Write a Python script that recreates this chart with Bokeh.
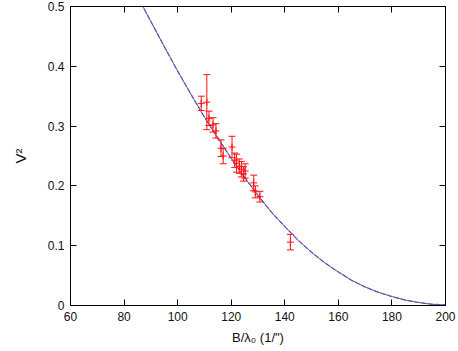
from bokeh.plotting import figure
from bokeh.models import LinearAxis, FixedTicker, CustomJSTickFormatter, ColumnDataSource, Range1d
from bokeh.embed import file_html
from bokeh.resources import INLINE

# model curve
curve_b = [85, 90, 95, 100, 105, 110, 115, 120, 125, 130, 135, 140, 145, 150,
           155, 160, 165, 170, 175, 180, 185, 190, 195, 200]
curve_v2 = [0.517, 0.475, 0.433, 0.392, 0.353, 0.315, 0.280, 0.246, 0.214, 0.184,
            0.156, 0.132, 0.109, 0.089, 0.071, 0.056, 0.042, 0.031, 0.022, 0.015,
            0.009, 0.005, 0.002, 0.001]

# measurements
data_b = [108.8, 110.9, 111.7, 113.2, 114.3, 116.2, 117.0, 120.3, 121.3, 122.0,
          123.0, 123.8, 124.6, 125.2, 128.4, 129.0, 130.7, 142.1]
data_v2 = [0.338, 0.340, 0.313, 0.302, 0.292, 0.263, 0.250, 0.265, 0.243, 0.238,
           0.233, 0.228, 0.220, 0.225, 0.205, 0.190, 0.182, 0.106]
data_err = [0.012, 0.046, 0.012, 0.012, 0.012, 0.014, 0.013, 0.018, 0.012, 0.015,
            0.012, 0.013, 0.012, 0.012, 0.013, 0.010, 0.009, 0.013]

x_ticks = [60, 80, 100, 120, 140, 160, 180, 200]
y_ticks = [0, 0.1, 0.2, 0.3, 0.4, 0.5]

FONT = "Liberation Sans"

p = figure(width=458, height=351, output_backend="svg", toolbar_location=None,
           x_range=Range1d(60, 200), y_range=Range1d(0, 0.5),
           min_border_left=70, min_border_right=13, min_border_top=6, min_border_bottom=46)
p.grid.visible = False
p.outline_line_color = "black"
p.outline_line_width = 1
p.background_fill_color = "white"
p.border_fill_color = "white"

fmt = CustomJSTickFormatter(code="return tick.toFixed(1).replace(/\\.0$/, '');")

for ax in p.xaxis:
    ax.ticker = FixedTicker(ticks=x_ticks)
for ax in p.yaxis:
    ax.ticker = FixedTicker(ticks=y_ticks)
    ax.formatter = fmt

for ax in list(p.xaxis) + list(p.yaxis):
    ax.major_tick_in = 6
    ax.major_tick_out = 0
    ax.minor_tick_line_color = None
    ax.axis_line_color = "black"
    ax.major_tick_line_color = "black"
    ax.major_label_text_font = FONT
    ax.major_label_text_font_size = "12px"
    ax.major_label_text_color = "#111111"
    ax.axis_label_text_font = FONT
    ax.axis_label_text_font_size = "13px"
    ax.axis_label_text_font_style = "normal"
    ax.axis_label_text_color = "#111111"

p.xaxis.axis_label = "B/λ\u2080 (1/\")"
p.yaxis.axis_label = "V\u00b2"
p.yaxis.axis_label_text_font_size = "15px"
p.xaxis.major_label_standoff = 6
p.yaxis.major_label_standoff = 6
p.xaxis.axis_label_standoff = 6
p.yaxis.axis_label_standoff = 16

top = LinearAxis(ticker=FixedTicker(ticks=x_ticks), major_tick_in=6, major_tick_out=0,
                 minor_tick_line_color=None, major_label_text_font_size="0px",
                 major_label_text_color=None)
right = LinearAxis(ticker=FixedTicker(ticks=y_ticks), major_tick_in=6, major_tick_out=0,
                   minor_tick_line_color=None, major_label_text_font_size="0px",
                   major_label_text_color=None)
p.add_layout(top, "above")
p.add_layout(right, "right")

csrc = ColumnDataSource(dict(x=curve_b, y=curve_v2))
p.line("x", "y", source=csrc, line_color="#00b000", line_width=1)
p.line("x", "y", source=csrc, line_color="#9a30e8", line_width=1.2, line_dash="5 2")

lo = [v - e for v, e in zip(data_v2, data_err)]
hi = [v + e for v, e in zip(data_v2, data_err)]
dsrc = ColumnDataSource(dict(x=data_b, y=data_v2, lo=lo, hi=hi))
RED = "#ff1010"
p.segment(x0="x", y0="lo", x1="x", y1="hi", source=dsrc, line_color=RED, line_width=1)
p.scatter("x", "lo", source=dsrc, marker="dash", size=7, line_color=RED, line_width=1)
p.scatter("x", "hi", source=dsrc, marker="dash", size=7, line_color=RED, line_width=1)
p.scatter("x", "y", source=dsrc, marker="cross", size=7, line_color=RED, line_width=1)

open("out.html", "w").write(file_html(p, INLINE))
